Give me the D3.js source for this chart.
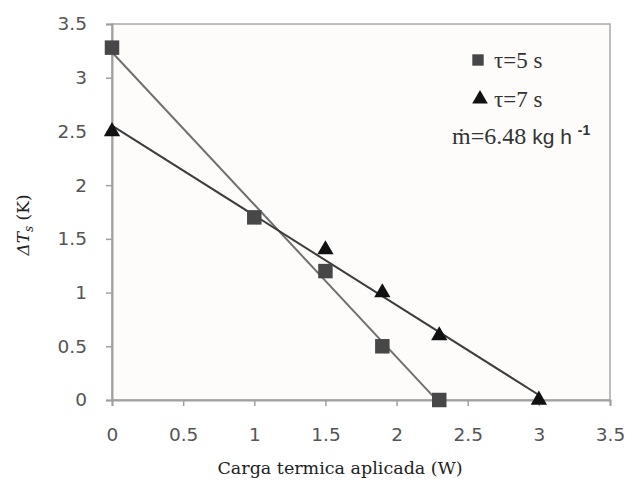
<!DOCTYPE html>
<html><head><meta charset="utf-8">
<script src="https://cdn.jsdelivr.net/npm/d3@7"></script>
<style>body{margin:0;background:#fff}</style>
</head><body>
<svg id="c" width="632" height="489"></svg>
<script>
const xTicks = [0,0.5,1,1.5,2,2.5,3,3.5];
const yTicks = [0,0.5,1,1.5,2,2.5,3,3.5];
const xSquare = [0,1,1.5,1.9,2.3];
const ySquare = [3.28,1.7,1.2,0.5,0];
const xTri = [0,1.5,1.9,2.3,3];
const yTri = [2.5,1.4,1.0,0.6,0];

const svg = d3.select("#c");
const m = {l:112, r:610, t:24, b:400};
const x = d3.scaleLinear().domain([0,3.5]).range([m.l,m.r]);
const y = d3.scaleLinear().domain([0,3.5]).range([m.b,m.t]);

svg.append("rect").attr("x",m.l).attr("y",m.t).attr("width",m.r-m.l).attr("height",m.b-m.t)
  .attr("fill","#fdfcfa").attr("stroke","#a8a8a8").attr("stroke-width",1.5);

const gx = svg.append("g").attr("transform",`translate(0,${m.b})`)
  .call(d3.axisBottom(x).tickValues(xTicks).tickFormat(d3.format("")).tickSize(6).tickPadding(22));
const gy = svg.append("g").attr("transform",`translate(${m.l},0)`)
  .call(d3.axisLeft(y).tickValues(yTicks).tickFormat(d3.format("")).tickSize(6).tickPadding(19));
[gx,gy].forEach(g=>{
  g.select(".domain").attr("stroke","#a0a0a0").attr("stroke-width",2);
  g.selectAll(".tick line").attr("stroke","#a0a0a0").attr("stroke-width",1.5);
  g.selectAll("text").attr("fill","#555").style("font-family","'DejaVu Sans',sans-serif").style("font-size","18.5px");
});

function fit(xs,ys){
  const mx=d3.mean(xs), my=d3.mean(ys);
  const sxy=d3.sum(xs,(v,i)=>(v-mx)*(ys[i]-my));
  const sxx=d3.sum(xs,v=>(v-mx)*(v-mx));
  const b=sxy/sxx, a=my-b*mx;
  const x0=d3.min(xs), x1=d3.max(xs);
  return [[x0,a+b*x0],[x1,a+b*x1]];
}
const line = d3.line().x(d=>x(d[0])).y(d=>y(d[1]));
svg.append("path").attr("d",line(fit(xSquare,ySquare))).attr("fill","none").attr("stroke","#707070").attr("stroke-width",2);
svg.append("path").attr("d",line(fit(xTri,yTri))).attr("fill","none").attr("stroke","#3c3c3c").attr("stroke-width",2);

const sq = d3.symbol().type(d3.symbolSquare).size(210);
const tr = d3.symbol().type(d3.symbolTriangle).size(115);
svg.selectAll(".sq").data(xSquare.map((v,i)=>[v,ySquare[i]])).join("path")
  .attr("transform",d=>`translate(${x(d[0])},${y(d[1])})`).attr("d",sq).attr("fill","#474747");
svg.selectAll(".tr").data(xTri.map((v,i)=>[v,yTri[i]])).join("path")
  .attr("transform",d=>`translate(${x(d[0])},${y(d[1])})`).attr("d",tr).attr("fill","#111");

// legend
svg.append("path").attr("transform","translate(478,60)").attr("d",d3.symbol().type(d3.symbolSquare).size(130)).attr("fill","#474747");
svg.append("path").attr("transform","translate(480,99)").attr("d",d3.symbol().type(d3.symbolTriangle).size(105)).attr("fill","#111");
const lf = "'Liberation Serif','Times New Roman',serif";
svg.append("text").attr("x",494).attr("y",68).style("font-family",lf).style("font-size","23px").attr("fill","#333").text("τ=5 s");
svg.append("text").attr("x",494).attr("y",107).style("font-family",lf).style("font-size","23px").attr("fill","#333").text("τ=7 s");
const mt = svg.append("text").attr("x",452).attr("y",144).attr("fill","#333").style("font-size","24px");
mt.append("tspan").style("font-family",lf).text("ṁ=6.48 ");
mt.append("tspan").style("font-family","'Liberation Sans',Arial,sans-serif").style("font-size","21px").text("kg h ");
mt.append("tspan").attr("dy",-9).style("font-family","'Liberation Sans',Arial,sans-serif").style("font-size","14px").style("font-weight","bold").text("-1");

// axis titles
svg.append("text").attr("x",340).attr("y",474).attr("text-anchor","middle")
  .style("font-family","'DejaVu Serif',serif").style("font-size","17.5px").attr("fill","#222").text("Carga termica aplicada (W)");
const yt = svg.append("text").attr("transform","translate(29,225) rotate(-90)").attr("text-anchor","middle")
  .style("font-family","'DejaVu Serif',serif").style("font-size","17px").attr("fill","#222");
yt.append("tspan").style("font-style","italic").text("ΔT");
yt.append("tspan").attr("dy",4).style("font-style","italic").style("font-size","12px").text("s");
yt.append("tspan").attr("dy",-4).text(" (K)");
</script>
</body></html>
